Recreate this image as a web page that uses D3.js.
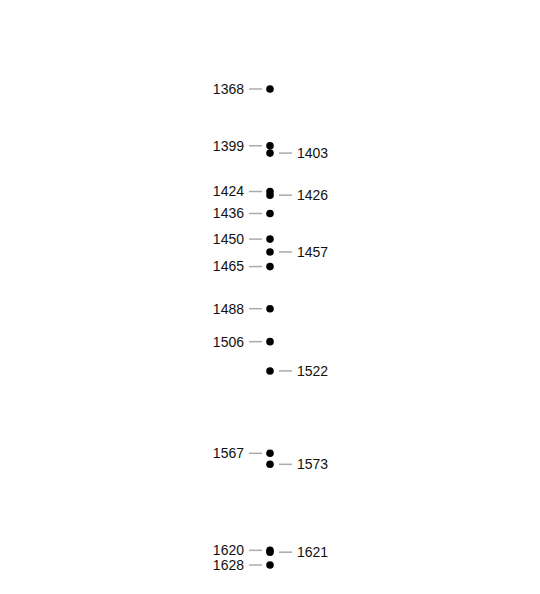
<!DOCTYPE html>
<html><head><meta charset="utf-8">
<script src="https://cdn.jsdelivr.net/npm/d3@7"></script>
<style>body{margin:0;background:#fff}</style></head>
<body><svg id="c" width="540" height="594"></svg>
<script>
const leftYears=[1368,1399,1424,1436,1450,1465,1488,1506,1567,1620,1628];
const rightYears=[1403,1426,1457,1522,1573,1621];
const svg=d3.select("#c");
const y=d3.scaleLinear().domain([1368,1628]).range([89,565]);
const cx=270;
const all=leftYears.map(v=>({v,side:-1})).concat(rightYears.map(v=>({v,side:1})));
const g=svg.selectAll("g.e").data(all).enter().append("g");
g.append("line").attr("x1",d=>d.side<0?249:279).attr("x2",d=>d.side<0?262:292)
 .attr("y1",d=>y(d.v)).attr("y2",d=>y(d.v)).attr("stroke","#aaa").attr("stroke-width",1.5);
g.append("text").attr("x",d=>d.side<0?244:297).attr("y",d=>y(d.v)).attr("dy","0.35em")
 .attr("text-anchor",d=>d.side<0?"end":"start").attr("font-family","Liberation Sans, Arial, sans-serif")
 .attr("font-size",14).attr("fill","#111").text(d=>d.v);
svg.selectAll("circle").data(all).enter().append("circle").attr("cx",cx).attr("cy",d=>y(d.v)).attr("r",3.8).attr("fill","#000");
</script></body></html>
